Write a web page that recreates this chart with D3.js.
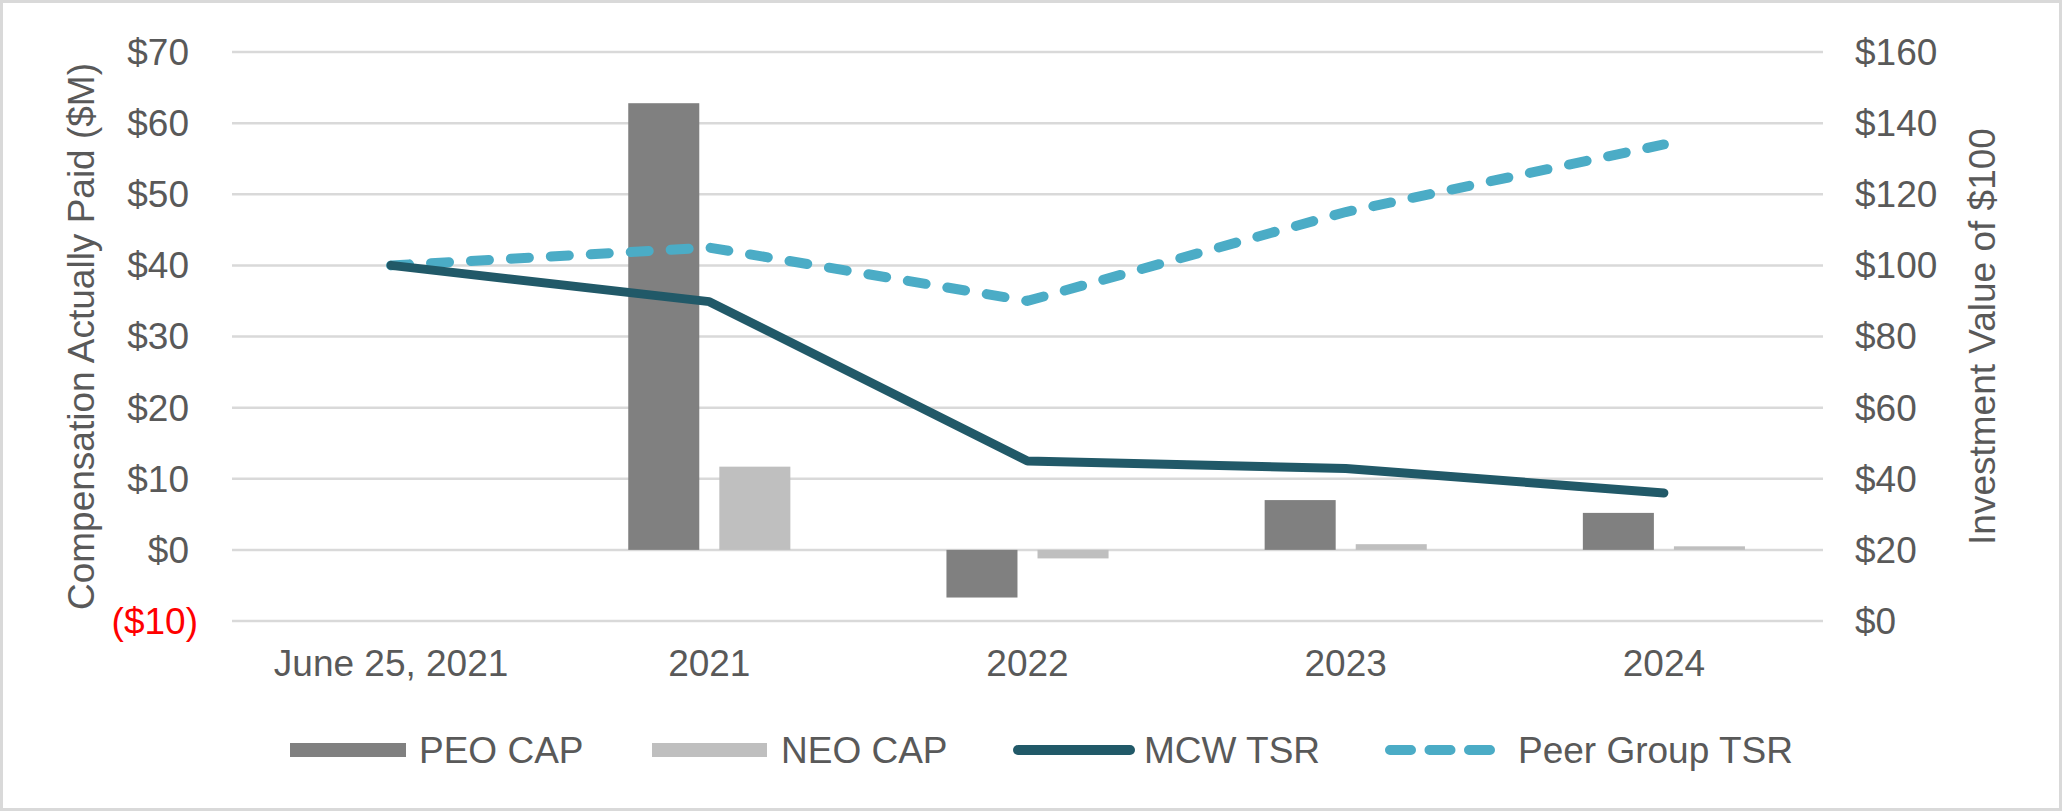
<!DOCTYPE html>
<html lang="en">
<head>
    <meta charset="UTF-8">
    <title>Pay versus Performance</title>
    <style>
        body {
            margin: 0;
            background-color: #ffffff;
            font-family: "Liberation Sans", Arial, sans-serif;
        }
        svg text {
            fill: #595959;
            font-size: 37px;
        }
    </style>
    <script src="https://d3js.org/d3.v7.min.js"></script>
</head>
<body>
    <div id="chart"></div>
    <script>
        // Chart data
        const categories = ["June 25, 2021", "2021", "2022", "2023", "2024"];
        const peoCap = [null, 62.8, -6.7, 7.0, 5.2];
        const neoCap = [null, 11.7, -1.2, 0.8, 0.5];
        const mcwTsr = [100, 89.8, 45.0, 42.9, 36.0];
        const peerTsr = [100, 105, 90, 115, 134];
        const leftTicks = [-10, 0, 10, 20, 30, 40, 50, 60, 70];
        const rightTicks = [0, 20, 40, 60, 80, 100, 120, 140, 160];

        const width = 2062;
        const height = 811;
        const margin = { top: 52, right: 239, bottom: 190, left: 232 };

        const svg = d3.select('#chart').append('svg')
            .attr('width', width)
            .attr('height', height);

        // outer frame
        svg.append('rect')
            .attr('x', 1.5).attr('y', 1.5)
            .attr('width', width - 3).attr('height', height - 3)
            .attr('fill', 'white')
            .attr('stroke', '#d9d9d9')
            .attr('stroke-width', 3);

        const x = d3.scaleBand()
            .domain(categories)
            .range([margin.left, width - margin.right]);

        const xInner = d3.scaleBand()
            .domain(['peo', 'neo'])
            .range([0, x.bandwidth()])
            .paddingInner(0.22)
            .paddingOuter(0.857);

        const yLeft = d3.scaleLinear()
            .domain([-10, 70])
            .range([height - margin.bottom, margin.top]);

        const yRight = d3.scaleLinear()
            .domain([0, 160])
            .range([height - margin.bottom, margin.top]);

        // gridlines
        svg.append('g')
            .selectAll('line')
            .data(leftTicks)
            .enter().append('line')
            .attr('x1', margin.left)
            .attr('x2', width - margin.right)
            .attr('y1', d => yLeft(d))
            .attr('y2', d => yLeft(d))
            .attr('stroke', '#d9d9d9')
            .attr('stroke-width', 2.5);

        // left axis labels
        svg.append('g')
            .selectAll('text')
            .data(leftTicks)
            .enter().append('text')
            .attr('x', d => d < 0 ? 198 : 189)
            .attr('y', d => yLeft(d))
            .attr('dy', '0.35em')
            .attr('text-anchor', 'end')
            .style('fill', d => d < 0 ? '#ff0000' : '#595959')
            .text(d => d < 0 ? `($${-d})` : `$${d}`);

        // right axis labels
        svg.append('g')
            .selectAll('text')
            .data(rightTicks)
            .enter().append('text')
            .attr('x', width - margin.right + 32)
            .attr('y', d => yRight(d))
            .attr('dy', '0.35em')
            .attr('text-anchor', 'start')
            .text(d => `$${d}`);

        // x axis labels
        svg.append('g')
            .selectAll('text')
            .data(categories)
            .enter().append('text')
            .attr('x', d => x(d) + x.bandwidth() / 2)
            .attr('y', 676)
            .attr('text-anchor', 'middle')
            .text(d => d);

        // axis titles
        const midY = (margin.top + height - margin.bottom) / 2;
        svg.append('text')
            .attr('transform', `translate(94, ${midY}) rotate(-90)`)
            .attr('text-anchor', 'middle')
            .text('Compensation Actually Paid ($M)');

        svg.append('text')
            .attr('transform', `translate(1995, ${midY}) rotate(-90)`)
            .attr('text-anchor', 'middle')
            .text('Investment Value of $100');

        // bars
        const barData = [];
        categories.forEach((c, i) => {
            if (peoCap[i] !== null) barData.push({ cat: c, key: 'peo', value: peoCap[i] });
            if (neoCap[i] !== null) barData.push({ cat: c, key: 'neo', value: neoCap[i] });
        });
        const barColor = { peo: '#808080', neo: '#bfbfbf' };

        svg.append('g')
            .selectAll('rect')
            .data(barData)
            .enter().append('rect')
            .attr('x', d => x(d.cat) + xInner(d.key))
            .attr('width', xInner.bandwidth())
            .attr('y', d => yLeft(Math.max(0, d.value)))
            .attr('height', d => Math.abs(yLeft(d.value) - yLeft(0)))
            .attr('fill', d => barColor[d.key]);

        // lines
        const line = d3.line()
            .x((d, i) => x(categories[i]) + x.bandwidth() / 2)
            .y(d => yRight(d));

        svg.append('path')
            .datum(peerTsr)
            .attr('d', line)
            .attr('fill', 'none')
            .attr('stroke', '#4bacc6')
            .attr('stroke-width', 10)
            .attr('stroke-linecap', 'round')
            .attr('stroke-dasharray', '18,22');

        svg.append('path')
            .datum(mcwTsr)
            .attr('d', line)
            .attr('fill', 'none')
            .attr('stroke', '#215968')
            .attr('stroke-width', 9)
            .attr('stroke-linecap', 'round')
            .attr('stroke-linejoin', 'round');

        // legend
        const legendY = 750;
        const legend = svg.append('g');

        legend.append('rect').attr('x', 290).attr('y', legendY - 7).attr('width', 116).attr('height', 14).attr('fill', '#808080');
        legend.append('text').attr('x', 419).attr('y', legendY).attr('dy', '0.35em').text('PEO CAP');

        legend.append('rect').attr('x', 652).attr('y', legendY - 7).attr('width', 115).attr('height', 14).attr('fill', '#bfbfbf');
        legend.append('text').attr('x', 781).attr('y', legendY).attr('dy', '0.35em').text('NEO CAP');

        legend.append('line').attr('x1', 1018).attr('x2', 1130).attr('y1', legendY).attr('y2', legendY)
            .attr('stroke', '#215968').attr('stroke-width', 10).attr('stroke-linecap', 'round');
        legend.append('text').attr('x', 1144).attr('y', legendY).attr('dy', '0.35em').text('MCW TSR');

        legend.append('line').attr('x1', 1390).attr('x2', 1490).attr('y1', legendY).attr('y2', legendY)
            .attr('stroke', '#4bacc6').attr('stroke-width', 10).attr('stroke-linecap', 'round')
            .attr('stroke-dasharray', '21,18.5');
        legend.append('text').attr('x', 1518).attr('y', legendY).attr('dy', '0.35em').text('Peer Group TSR');
    </script>
</body>
</html>
